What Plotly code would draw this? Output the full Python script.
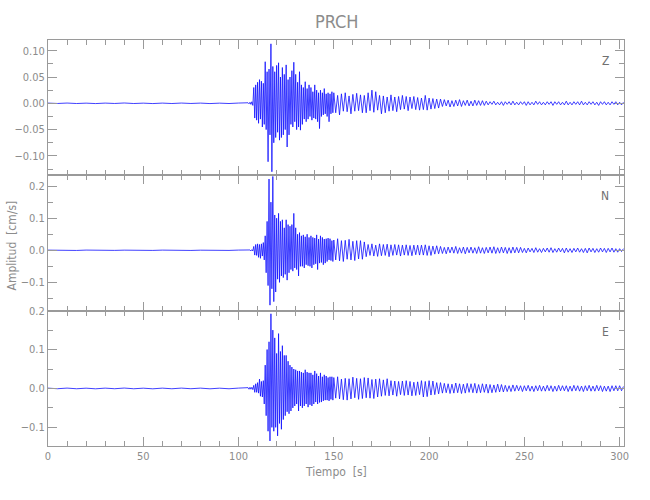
import numpy as np
import plotly.graph_objects as go

# ---------------- data (velocity, cm/s) ----------------
station = "PRCH"
components = ["Z", "N", "E"]

# pre-event noise, sampled every 5 s from 0 s
z_pre = [0.0004,-0.0003,0.0005,-0.0004,0.0003,-0.0005,0.0004,-0.0003,0.0006,-0.0004,0.0003,
         -0.0005,0.0004,-0.0004,0.0005,-0.0003,0.0004,-0.0005,0.0003,-0.0004,0.0005]
n_pre = [0.0005,-0.0004,0.0004,-0.0005,0.0006,-0.0004,0.0005,-0.0003,0.0004,-0.0005,0.0004,
         -0.0004,0.0005,-0.0006,0.0004,-0.0005,0.0003,-0.0004,0.0005,-0.0004,0.0006]
e_pre = [0.0008,-0.0007,0.0009,-0.0008,0.0007,-0.0009,0.0008,-0.0007,0.0010,-0.0008,0.0007,
         -0.0009,0.0008,-0.0008,0.0009,-0.0007,0.0008,-0.0009,0.0007,-0.0008,0.0009]

# strong motion, peaks every 0.5 s from 105 s
z_main = [0.001,-0.001,0.002,-0.002,0.003,-0.004,
          0.030,-0.028,0.035,-0.032,0.040,
          -0.038,0.045,-0.030,0.042,-0.045,0.038,
          -0.040,0.079,-0.050,0.060,-0.111,
          0.065,-0.060,0.113,-0.130,0.070,
          -0.075,0.060,-0.065,0.072,-0.055,0.077,
          -0.070,0.050,-0.065,0.068,-0.060,0.055,-0.050,0.073,
          -0.083,0.045,-0.060,0.050,-0.040,0.062,
          -0.045,0.078,-0.035,0.055,-0.050,0.040,
          -0.045,0.060,-0.051,0.035,-0.040,0.030,
          -0.030,0.041,-0.035,0.028,-0.030,0.035,
          -0.025,0.030,-0.032,0.022,-0.028,0.035,
          -0.030,0.025,-0.035,0.020,-0.048,0.025,
          -0.025,0.020,-0.022,0.028,-0.020,0.018,
          -0.025,0.020,-0.035,0.018,-0.020,0.022,-0.018]
n_main = [0.001,-0.001,0.001,-0.002,0.002,-0.002,
          0.012,-0.015,0.018,-0.016,0.020,
          -0.022,0.018,-0.025,0.020,-0.018,0.024,
          -0.030,0.045,-0.070,0.090,-0.110,
          0.222,-0.171,0.150,-0.120,0.230,
          -0.160,0.110,-0.130,0.100,-0.090,0.115,
          -0.100,0.090,-0.080,0.095,-0.085,0.070,-0.075,0.095,
          -0.093,0.080,-0.070,0.075,-0.060,0.080,
          -0.065,0.115,-0.055,0.070,-0.060,0.050,
          -0.080,0.055,-0.050,0.045,-0.050,0.048,
          -0.055,0.042,-0.045,0.050,-0.048,0.040,
          -0.050,0.045,-0.055,0.040,-0.045,0.038,
          -0.042,0.048,-0.060,0.035,-0.040,0.045,
          -0.038,0.040,-0.045,0.035,-0.040,0.036,
          -0.035,0.038,-0.030,0.036,-0.032,0.030,-0.035]
e_main = [0.002,-0.002,0.003,-0.002,0.003,-0.003,
          0.008,-0.010,0.012,-0.010,0.015,
          -0.012,0.024,-0.020,0.018,-0.022,0.020,
          -0.040,0.060,-0.070,0.100,-0.110,
          0.120,-0.135,0.192,-0.100,0.150,
          -0.110,0.130,-0.100,0.090,-0.122,0.141,
          -0.090,0.095,-0.105,0.110,-0.080,0.085,-0.070,0.085,
          -0.060,0.070,-0.065,0.060,-0.058,0.055,
          -0.050,0.050,-0.045,0.048,-0.040,0.045,
          -0.058,0.045,-0.045,0.042,-0.050,0.040,
          -0.045,0.048,-0.040,0.042,-0.048,0.040,
          -0.042,0.040,-0.045,0.035,-0.040,0.045,
          -0.035,0.038,-0.040,0.032,-0.036,0.040,
          -0.035,0.030,-0.032,0.035,-0.030,0.032,
          -0.030,0.028,-0.032,0.030,-0.028,0.030,-0.030]

# coda, peaks every 1 s from 150 s
z_tail = [0.020,-0.018,0.015,-0.022,0.018,-0.015,0.020,-0.016,0.014,-0.020,0.017,-0.015,0.019,-0.014,0.016,-0.018,
          0.015,-0.018,0.020,-0.014,0.025,-0.017,0.022,-0.013,0.015,-0.020,0.014,-0.018,0.012,-0.015,0.016,
          -0.014,0.012,-0.016,0.013,-0.012,0.015,-0.011,0.013,-0.014,0.012,-0.010,0.013,-0.012,0.011,-0.013,
          0.010,-0.012,0.015,-0.013,0.010,-0.011,0.009,-0.010,0.008,-0.009,0.008,
          -0.006,0.007,-0.005,0.006,-0.007,0.005,-0.006,0.006,-0.005,0.007,-0.006,0.005,
          -0.004,0.006,-0.005,0.004,-0.005,0.006,-0.004,0.005,-0.004,0.005,-0.004,0.004,
          -0.003,0.003,-0.002,0.004,-0.003,0.002,-0.003,0.003,-0.004,0.003,
          -0.002,0.003,-0.003,0.004,-0.003,0.002,-0.003,0.003,-0.002,0.003,
          -0.004,0.003,-0.003,0.002,-0.003,0.004,-0.002,0.003,-0.003,0.002,
          -0.003,0.003,-0.002,0.003,-0.004,0.003,-0.002,0.003,-0.003,0.002,
          -0.003,0.004,-0.003,0.002,-0.003,0.003,-0.002,0.003,-0.003,0.004,
          -0.003,0.002,-0.003,0.003,-0.002,0.003,-0.003,0.002,-0.004,0.003,
          -0.002,0.003,-0.003,0.002,-0.003,0.003,-0.002,0.003,-0.003,0.002,
          -0.003,0.002]
n_tail = [0.032,-0.030,0.036,-0.033,0.030,-0.035,0.031,-0.028,0.034,-0.030,0.028,-0.032,0.030,-0.027,0.030,-0.028,0.026,
          -0.020,0.018,-0.016,0.020,-0.018,0.016,-0.019,0.020,-0.017,0.018,-0.016,0.019,-0.020,0.017,-0.016,
          0.018,-0.015,0.017,-0.018,0.016,-0.015,0.017,-0.016,0.015,-0.017,0.016,-0.014,0.016,-0.015,
          0.016,-0.015,0.017,-0.016,0.014,-0.016,0.013,-0.012,0.014,-0.011,0.012,
          -0.010,0.009,-0.011,0.010,-0.008,0.010,-0.009,0.012,-0.010,0.008,
          -0.009,0.010,-0.011,0.009,-0.008,0.010,-0.009,0.008,-0.010,0.011,
          -0.009,0.008,-0.010,0.009,-0.008,0.010,-0.009,0.011,-0.010,0.008,
          -0.009,0.010,-0.008,0.009,-0.010,0.008,-0.009,0.010,-0.008,0.009,
          -0.008,0.009,
          -0.007,0.006,-0.008,0.007,-0.005,0.006,-0.007,0.008,-0.006,0.005,
          -0.007,0.006,-0.005,0.007,-0.006,0.008,-0.007,0.005,-0.006,0.007,
          -0.005,0.006,-0.008,0.007,-0.006,0.005,-0.007,0.006,-0.005,0.007,
          -0.006,0.005,-0.007,0.006,-0.008,0.007,-0.005,0.006,-0.007,0.005,
          -0.006,0.007,-0.005,0.006,-0.007,0.006,-0.005,0.007,-0.006,0.005,
          -0.006,0.005,-0.004,0.005]
e_tail = [0.028,-0.025,0.030,-0.027,0.024,-0.029,0.026,-0.030,0.025,-0.027,0.029,-0.024,0.026,-0.028,0.025,
          -0.026,0.028,-0.024,0.027,-0.025,0.023,-0.026,0.024,-0.022,0.025,
          -0.020,0.022,-0.018,0.025,-0.019,0.020,-0.017,0.019,-0.020,0.018,-0.016,0.019,-0.018,0.020,-0.017,
          0.018,-0.019,0.016,-0.018,0.017,-0.016,
          0.020,-0.022,0.018,-0.021,0.020,-0.017,0.019,-0.016,0.015,-0.014,0.015,
          -0.012,0.013,-0.011,0.012,-0.013,0.011,-0.012,0.014,-0.011,0.012,
          -0.013,0.011,-0.012,0.013,-0.010,0.012,-0.011,0.013,-0.012,0.010,
          -0.011,0.012,-0.010,0.011,-0.012,0.010,-0.011,0.009,-0.010,0.011,
          -0.009,0.010,-0.009,0.008,
          -0.008,0.007,-0.008,0.009,-0.007,0.008,-0.006,0.007,-0.008,0.007,
          -0.006,0.008,-0.007,0.006,-0.008,0.007,-0.006,0.008,-0.007,0.006,
          -0.007,0.008,-0.006,0.007,-0.008,0.006,-0.007,0.008,-0.006,0.007,
          -0.006,0.007,-0.008,0.006,-0.007,0.008,-0.006,0.007,-0.007,0.006,
          -0.008,0.007,-0.006,0.008,-0.007,0.006,-0.007,0.008,-0.006,0.007,
          -0.008,0.006,-0.007,0.006,-0.008,0.007,-0.006,0.007,-0.006,0.007,
          -0.006,0.005]

traces = {"Z": (z_pre, z_main, z_tail),
          "N": (n_pre, n_main, n_tail),
          "E": (e_pre, e_main, e_tail)}

y_ranges = {"Z": [-0.1366, 0.1203], "N": [-0.188, 0.234], "E": [-0.148, 0.2002]}
y_dtick = {"Z": 0.05, "N": 0.1, "E": 0.1}
y_fmt = {"Z": ".2f", "N": ".1f", "E": ".1f"}
x_range = [0, 302.3]

# ---------------- figure ----------------
FONT = "Liberation Sans Narrow, DejaVu Sans Condensed, Liberation Sans, Arial"
GRAY = "#8c8c8c"
AX = "#9a9a9a"

fig = go.Figure()
domains = {"Z": [0.667, 1.0], "N": [0.3335, 0.667], "E": [0.0, 0.3335]}

for i, comp in enumerate(components, start=1):
    pre, main, tail = traces[comp]
    t = np.concatenate([np.arange(len(pre)) * 5.0,
                        105.0 + 0.5 * np.arange(len(main)),
                        150.0 + np.arange(len(tail))])
    y = np.concatenate([pre, main, tail])
    fig.add_trace(go.Scatter(x=t, y=y, mode="lines",
                             line=dict(color="#1010ff", width=0.8),
                             xaxis=f"x{i}" if i > 1 else "x",
                             yaxis=f"y{i}" if i > 1 else "y",
                             showlegend=False, hoverinfo="skip"))

common_x = dict(range=x_range, dtick=50, tick0=0, ticks="inside", ticklen=9,
                tickcolor=AX, linecolor=AX, linewidth=1, mirror="ticks",
                showline=True, showgrid=False, zeroline=False,
                minor=dict(dtick=10, ticks="inside", ticklen=5, tickcolor=AX),
                tickfont=dict(family=FONT, size=11, color=GRAY))
for i, comp in enumerate(components, start=1):
    xa = "xaxis" if i == 1 else f"xaxis{i}"
    ya = "yaxis" if i == 1 else f"yaxis{i}"
    xkw = dict(common_x)
    xkw["anchor"] = "y" if i == 1 else f"y{i}"
    xkw["showticklabels"] = (comp == "E")
    if i > 1:
        xkw["matches"] = "x"
    fig.update_layout({xa: xkw})
    fig.update_layout({ya: dict(domain=domains[comp], range=y_ranges[comp],
                                dtick=y_dtick[comp], tick0=0, tickformat=y_fmt[comp],
                                anchor="x" if i == 1 else f"x{i}",
                                ticks="inside", ticklen=9, tickcolor=AX,
                                linecolor=AX, linewidth=1, mirror="ticks",
                                showline=True, showgrid=False, zeroline=False,
                                minor=dict(dtick=y_dtick[comp] / 2, ticks="inside",
                                           ticklen=5, tickcolor=AX),
                                tickfont=dict(family=FONT, size=11, color=GRAY))})

annotations = [
    dict(text="Amplitud  [cm/s]", x=-0.0625, y=0.494, xref="paper", yref="paper",
         xanchor="center", yanchor="middle",
         textangle=-90, showarrow=False, font=dict(family=FONT, size=12, color=GRAY)),
    dict(text="Tiempo  [s]", x=0.5, y=-0.064, xref="paper", yref="paper",
         xanchor="center", yanchor="middle",
         showarrow=False, font=dict(family=FONT, size=12, color=GRAY)),
]
label_y = {"Z": 0.948, "N": 0.615, "E": 0.28}
for comp in components:
    annotations.append(dict(text=comp, x=0.9675, y=label_y[comp], xref="paper",
                            yref="paper", xanchor="center", yanchor="middle",
                            showarrow=False,
                            font=dict(family=FONT, size=12, color="#707070")))

fig.update_layout(
    width=650, height=500,
    margin=dict(l=48, r=26, t=40, b=54),
    paper_bgcolor="white", plot_bgcolor="white",
    title=dict(text=station, x=0.518, xanchor="center", y=0.956, yanchor="middle",
               font=dict(family=FONT, size=18, color=GRAY)),
    annotations=annotations,
)

fig.write_html("out.html", config={"displayModeBar": False},
               post_script="document.body.style.margin='0';document.body.style.padding='0';")
